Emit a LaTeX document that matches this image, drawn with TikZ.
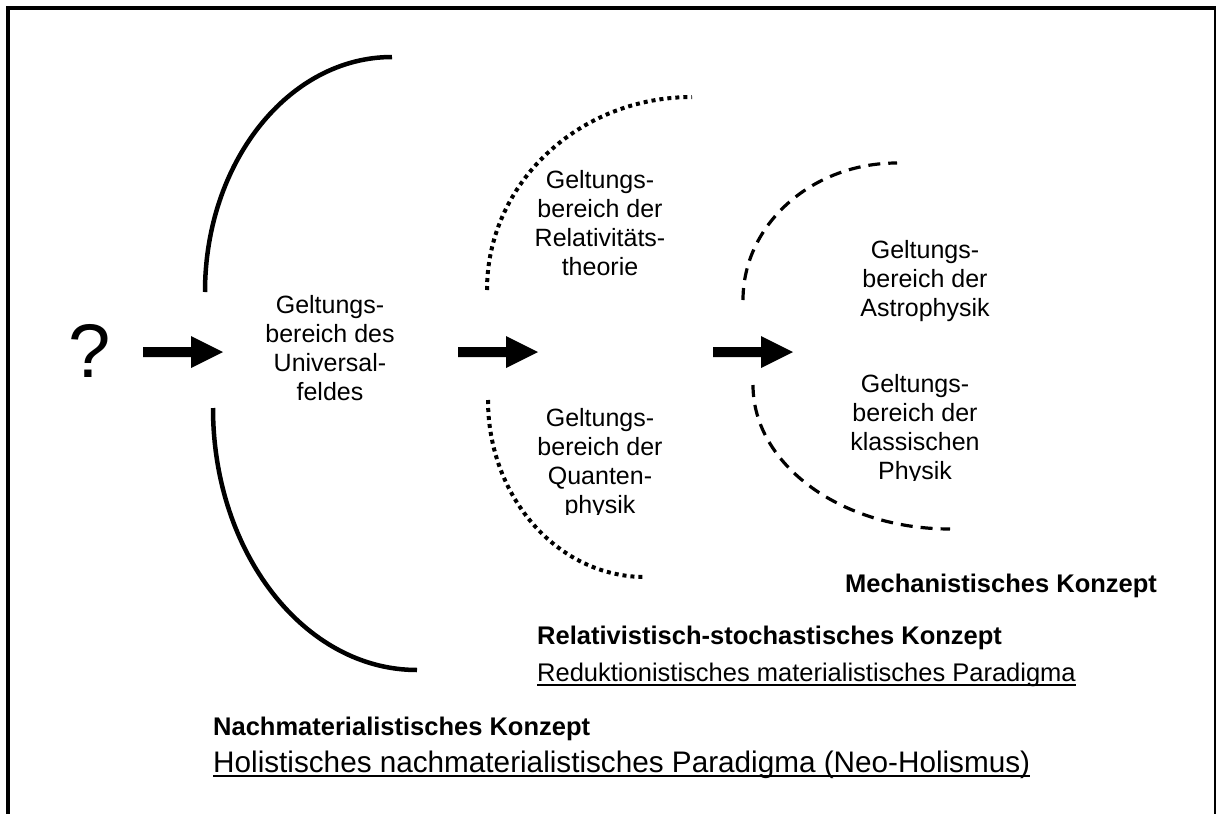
\documentclass[tikz,border=0pt]{standalone}
\usepackage{fontspec}
\setmainfont{Liberation Sans}
\tikzset{
  blockarrow/.pic={\fill (0,-5) -- (48,-5) -- (48,-16) -- (80,0) -- (48,16) -- (48,5) -- (0,5) -- cycle;},
  lbl/.style={align=center, font=\fontsize{25}{29}\selectfont, inner sep=0pt, anchor=north},
  caption/.style={font=\fontsize{25.5}{29}\selectfont, inner sep=0pt, anchor=base west},
  boldcaption/.style={caption, font=\fontsize{25.5}{29}\selectfont\bfseries},
  solidarc/.style={line width=4.5pt},
  dotarc/.style={line width=4pt, dash pattern=on 4pt off 4pt},
  dasharc/.style={line width=3.2pt, dash pattern=on 12pt off 8pt},
  uline/.style={line width=1.8pt},
}
\begin{document}
\begin{tikzpicture}[x=1pt,y=-1pt]
\useasboundingbox (0,0) rectangle (1219,814);

% frame, open at the bottom
\draw[line width=4pt] (8,816) -- (8,8) -- (1214,8);
\draw[line width=2.2pt] (1215,6) -- (1215,816);

% outer solid brackets
\draw[solidarc] (205,292) arc[start angle=180,end angle=90,x radius=187pt,y radius=235pt];
\draw[solidarc] (213,408) arc[start angle=180,end angle=270,x radius=204pt,y radius=262pt];

% middle dotted brackets
\draw[dotarc] (487,290) arc[start angle=180,end angle=90,x radius=205pt,y radius=193pt];
\draw[dotarc] (488,400) arc[start angle=180,end angle=270,x radius=157pt,y radius=177pt];

% inner dashed brackets
\draw[dasharc] (743,300) arc[start angle=180,end angle=90,x radius=154pt,y radius=137pt];
\draw[dasharc] (753,385) arc[start angle=180,end angle=270,x radius=197pt,y radius=144pt];

% question mark and block arrows
\node[font=\fontsize{76}{80}\selectfont, inner sep=0pt, anchor=base] (q) at (90,377) {?};
\pic at (143,352) {blockarrow};
\pic at (458,352) {blockarrow};
\pic at (713,352) {blockarrow};

% domains
\node[lbl] (uni) at (330,295) {Geltungs-\\bereich des\\Universal-\\feldes};
\node[lbl] (rel) at (600,170) {Geltungs-\\bereich der\\Relativitäts-\\theorie};
\begin{scope}
  \clip (480,380) rectangle (720,514);
  \node[lbl] (qua) at (600,408) {Geltungs-\\bereich der\\Quanten-\\physik};
\end{scope}
\node[lbl] (astro) at (925,240) {Geltungs-\\bereich der\\Astrophysik};
\begin{scope}
  \clip (800,360) rectangle (1040,480);
  \node[lbl] (klass) at (915,374) {Geltungs-\\bereich der\\klassischen\\Physik};
\end{scope}

% concepts and paradigms
\node[boldcaption] (mech) at (845,592) {Mechanistisches Konzept};
\node[boldcaption] (relk) at (537,644) {Relativistisch-stochastisches Konzept};
\node[caption] (redp) at (537,681) {Reduktionistisches materialistisches Paradigma};
\node[boldcaption] (nach) at (213,735) {Nachmaterialistisches Konzept};
\node[caption, font=\fontsize{29.7}{33}\selectfont] (holp) at (213,772) {Holistisches nachmaterialistisches Paradigma (Neo-Holismus)};
\draw[uline] ([yshift=-4pt]redp.base west) -- ([yshift=-4pt]redp.base east);
\draw[uline] ([yshift=-4pt]holp.base west) -- ([yshift=-4pt]holp.base east);
\end{tikzpicture}
\end{document}
